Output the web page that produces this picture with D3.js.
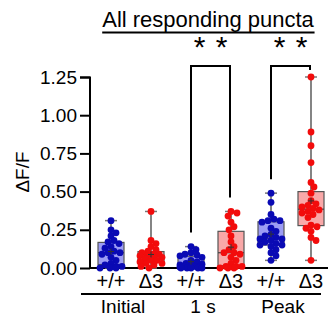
<!DOCTYPE html>
<html><head><meta charset="utf-8">
<script src="https://cdn.jsdelivr.net/npm/d3@7"></script>
<style>html,body{margin:0;padding:0;background:#fff;}svg{display:block;font-family:"Liberation Sans",Arial,sans-serif;}</style>
</head><body>
<script>
const title = "All responding puncta";
const yLabel = "ΔF/F";
const categories = ["Initial +/+","Initial Δ3","1 s +/+","1 s Δ3","Peak +/+","Peak Δ3"];
const catLabels = ["+/+","Δ3","+/+","Δ3","+/+","Δ3"];
const groups = ["Initial","1 s","Peak"];
const genotype = ["wt","d3","wt","d3","wt","d3"];
const yTicks = [0,0.25,0.5,0.75,1.0,1.25];
const initialWT = [0.00,0.00,0.00,0.01,0.01,0.02,0.03,0.05,0.07,0.09,0.10,0.10,0.11,0.13,0.14,0.16,0.17,0.18,0.21,0.23,0.25,0.31];
const initialD3 = [0.00,0.01,0.02,0.03,0.03,0.04,0.05,0.05,0.06,0.07,0.07,0.08,0.08,0.09,0.09,0.10,0.11,0.12,0.14,0.16,0.18,0.37];
const s1WT = [0,0,0,0,0,0.005,0.01,0.01,0.015,0.02,0.02,0.025,0.03,0.04,0.05,0.07,0.08,0.085,0.09,0.10,0.12,0.14];
const s1D3 = [0.00,0.00,0.00,0.01,0.01,0.01,0.03,0.05,0.07,0.09,0.10,0.10,0.12,0.14,0.17,0.21,0.25,0.27,0.30,0.34,0.36,0.37];
const peakWT = [0.05,0.08,0.10,0.12,0.14,0.15,0.15,0.16,0.17,0.18,0.19,0.19,0.20,0.21,0.22,0.24,0.26,0.30,0.31,0.31,0.32,0.35,0.43,0.49];
const peakD3 = [0.05,0.18,0.20,0.24,0.26,0.27,0.28,0.33,0.35,0.36,0.37,0.38,0.39,0.40,0.41,0.42,0.44,0.49,0.53,0.56,0.69,0.80,0.89,1.25];
const seriesValues = [initialWT, initialD3, s1WT, s1D3, peakWT, peakD3];
const significance = [{from:2,to:3,label:"*"},{from:4,to:5,label:"*"}];

const W = 328, H = 322;
const svg = d3.select("body").append("svg").attr("width",W).attr("height",H);
const y = d3.scaleLinear().domain([0,1.25]).range([268,77]);
const x = d3.scaleBand().domain(categories).range([91,331]).padding(0);
const boxW = 26;
const dotFill = {wt:"#0a0ab4", d3:"#f20c0c"};
const boxFill = {wt:"#9c9cf4", d3:"#f9a8a8"};

// y axis
const yAxis = d3.axisLeft(y).tickValues(yTicks).tickFormat(d3.format(".2f")).tickSize(10).tickPadding(3);
const gy = svg.append("g").attr("transform","translate(90,0)").call(yAxis);
gy.select(".domain").attr("stroke","#000").attr("stroke-width",2).attr("d","M-10,77.5H0V268");
gy.selectAll(".tick line").attr("stroke","#000").attr("stroke-width",2);
gy.selectAll(".tick text").attr("font-size",19).attr("fill","#000").attr("font-family","Liberation Sans, Arial, sans-serif");
// x axis line
svg.append("line").attr("x1",89).attr("x2",W).attr("y1",268).attr("y2",268).attr("stroke","#000").attr("stroke-width",2);

// y label
svg.append("text").attr("transform","translate(29,172) rotate(-90)").attr("text-anchor","middle")
  .attr("font-size",19).text(yLabel);

// boxes
const stats = seriesValues.map(v=>{
  const s = v.slice().sort(d3.ascending);
  return {min:s[0],max:s[s.length-1],q1:d3.quantile(s,0.25),med:d3.quantile(s,0.5),q3:d3.quantile(s,0.75),mean:d3.mean(s)};
});
categories.forEach((c,i)=>{
  const cx = x(c)+x.bandwidth()/2, st = stats[i], g = genotype[i];
  const gg = svg.append("g");
  gg.append("line").attr("x1",cx).attr("x2",cx).attr("y1",y(st.max)).attr("y2",y(st.min)).attr("stroke","#333").attr("stroke-width",1.2);
  [st.max,st.min].forEach(v=>gg.append("line").attr("x1",cx-6).attr("x2",cx+6).attr("y1",y(v)).attr("y2",y(v)).attr("stroke","#777").attr("stroke-width",1.5));
  gg.append("rect").attr("x",cx-boxW/2).attr("width",boxW).attr("y",y(st.q3)).attr("height",y(st.q1)-y(st.q3))
    .attr("fill",boxFill[g]).attr("stroke","#555").attr("stroke-width",1.2);
  gg.append("line").attr("x1",cx-boxW/2).attr("x2",cx+boxW/2).attr("y1",y(st.med)).attr("y2",y(st.med)).attr("stroke","#444").attr("stroke-width",1.2);
});

// dots (beeswarm)
const r = 3.4;
categories.forEach((c,i)=>{
  const cx = x(c)+x.bandwidth()/2;
  const vals = seriesValues[i].slice().sort(d3.descending);
  const placed = [];
  vals.forEach(v=>{
    const py = y(v);
    let best = 0, bestScore = Infinity;
    for (let k=0;k<=22;k++){
      const dx = (k%2? 1 : -1)*Math.ceil(k/2);
      if (Math.abs(dx)>11) continue;
      let ov = 0;
      placed.forEach(p=>{const d=Math.hypot(p.x-dx,p.y-py); if(d<2*r*0.8) ov += 2*r-d;});
      if (ov===0){best=dx;bestScore=0;break;}
      if (ov<bestScore){bestScore=ov;best=dx;}
    }
    placed.push({x:best,y:py});
  });
  svg.append("g").selectAll("circle").data(placed).join("circle")
    .attr("cx",d=>cx+d.x).attr("cy",d=>d.y).attr("r",r).attr("fill",dotFill[genotype[i]]);
  const my = y(stats[i].mean);
  svg.append("path").attr("d",`M${cx-3},${my}H${cx+3}M${cx},${my-3}V${my+3}`).attr("stroke","#333").attr("stroke-width",1);
});

// category labels
categories.forEach((c,i)=>{
  svg.append("text").attr("x",x(c)+x.bandwidth()/2).attr("y",288).attr("text-anchor","middle").attr("font-size",20).text(catLabels[i]);
});
// group lines + labels
groups.forEach((gname,j)=>{
  const a = x(categories[2*j]), b = x(categories[2*j+1])+x.bandwidth();
  svg.append("line").attr("x1",a-10).attr("x2",b-10).attr("y1",294).attr("y2",294).attr("stroke","#000").attr("stroke-width",2);
  svg.append("text").attr("x",(a+b)/2-8).attr("y",313).attr("text-anchor","middle").attr("font-size",19).text(gname);
});

// significance brackets
const bY = 66;
significance.forEach(s=>{
  const xa = x(categories[s.from])+x.bandwidth()/2, xb = x(categories[s.to])+x.bandwidth()/2 - 1;
  const ya = Math.max(bY+4, y(stats[s.from].max)-14), yb = Math.max(bY+4, y(stats[s.to].max)-14);
  svg.append("path").attr("d",`M${xa},${ya}V${bY}H${xb}V${yb}`).attr("fill","none").attr("stroke","#000").attr("stroke-width",2);
  const mid = (xa+xb)/2;
  [-11,11].forEach(o=>svg.append("text").attr("x",mid+o).attr("y",bY-9).attr("text-anchor","middle")
    .attr("font-size",30).text(s.label));
});

// title
const t = svg.append("text").attr("x",208).attr("y",27).attr("text-anchor","middle").attr("font-size",22).text(title);
const bb = t.node().getBBox();
svg.append("line").attr("x1",bb.x).attr("x2",bb.x+bb.width).attr("y1",32.5).attr("y2",32.5).attr("stroke","#000").attr("stroke-width",2);
</script>
</body></html>
